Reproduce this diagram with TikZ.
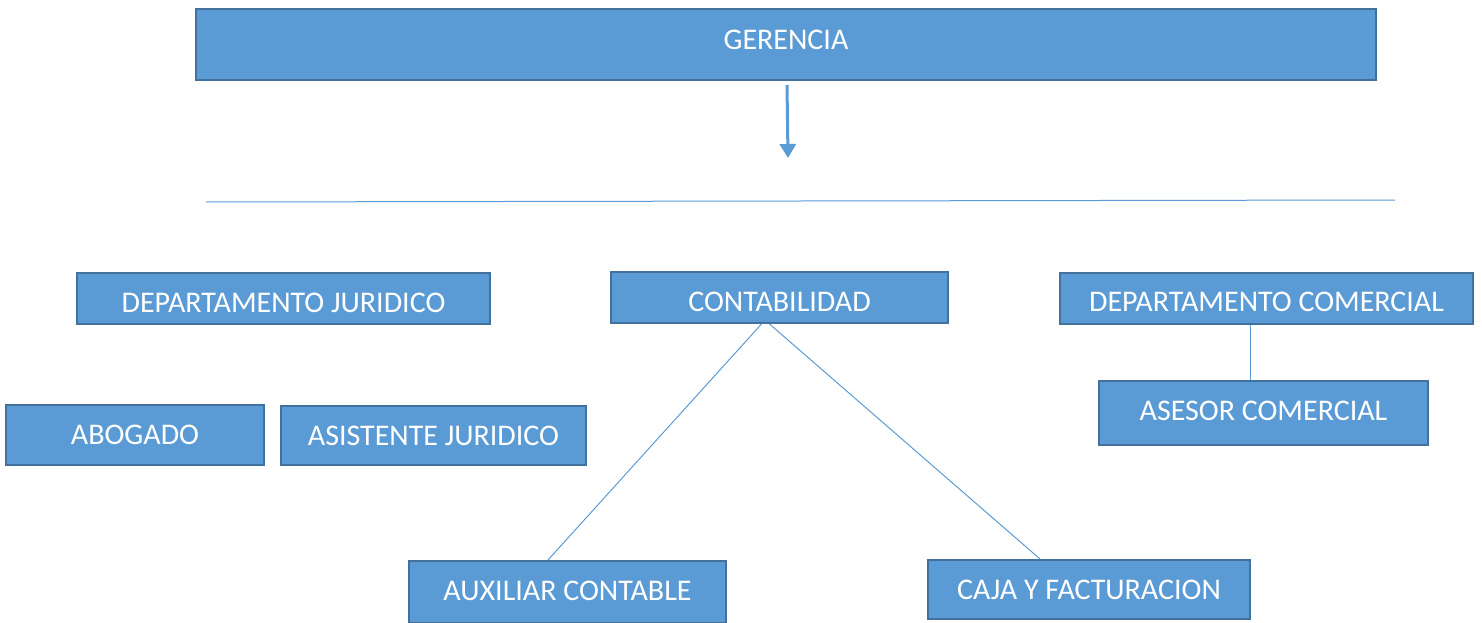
\documentclass[tikz,border=0pt]{standalone}
\usepackage{fontspec}
\setmainfont{Carlito}
\usetikzlibrary{arrows.meta}
\definecolor{boxfill}{HTML}{5B9BD5}
\definecolor{boxedge}{HTML}{41719C}
\newcommand{\rz}[2]{\raisebox{#1pt}{#2}}
\begin{document}
\begin{tikzpicture}[x=1pt,y=-1pt,
  orgbox/.style={draw=boxedge,fill=boxfill,line width=2pt,text=white,font=\fontsize{30}{34}\selectfont,inner sep=0pt,text height=19.3pt,text depth=0pt},
  conn/.style={draw=boxfill,line width=1pt}]
\useasboundingbox (0,0) rectangle (1482,623);
\node[orgbox,minimum width=1180,minimum height=71] (ger) at (786,44.5) {\rz{4.5}{GERENCIA}};
\coordinate (a1) at (787,85);
\coordinate (a2) at (788,158);
\draw[boxfill,line width=3pt,-{Triangle[length=14pt,width=16pt]}] (a1) -- (a2);
\coordinate (h1) at (206,202);
\coordinate (h2) at (1395,200);
\draw[conn] (h1) -- (h2);
\node[orgbox,minimum width=413,minimum height=51] (dj) at (283.5,298.5) {\rz{-4}{DEPARTAMENTO JURIDICO}};
\node[orgbox,minimum width=337,minimum height=51] (co) at (779.5,297.5) {\rz{-4.5}{CONTABILIDAD}};
\node[orgbox,minimum width=413,minimum height=51] (dc) at (1266.5,298.5) {\rz{-3.5}{DEPARTAMENTO COMERCIAL}};
\node[orgbox,minimum width=329,minimum height=64] (as) at (1263.5,413) {\rz{2}{ASESOR COMERCIAL}};
\node[orgbox,minimum width=258,minimum height=60] (ab) at (135,435) {ABOGADO};
\node[orgbox,minimum width=305,minimum height=59] (aj) at (433.5,435.5) {ASISTENTE JURIDICO};
\node[orgbox,minimum width=317,minimum height=62] (ax) at (567.5,592) {\rz{1.5}{AUXILIAR CONTABLE}};
\node[orgbox,minimum width=322,minimum height=59] (cf) at (1089,589.5) {CAJA Y FACTURACION};
\draw[conn] (dc.south -| 1250,0) -- (as.north -| 1250,0);
\draw[conn] ([xshift=-18pt]co.south) -- ([xshift=-19.5pt]ax.north);
\draw[conn] ([xshift=-10pt]co.south) -- ([xshift=-49pt]cf.north);
\end{tikzpicture}
\end{document}
